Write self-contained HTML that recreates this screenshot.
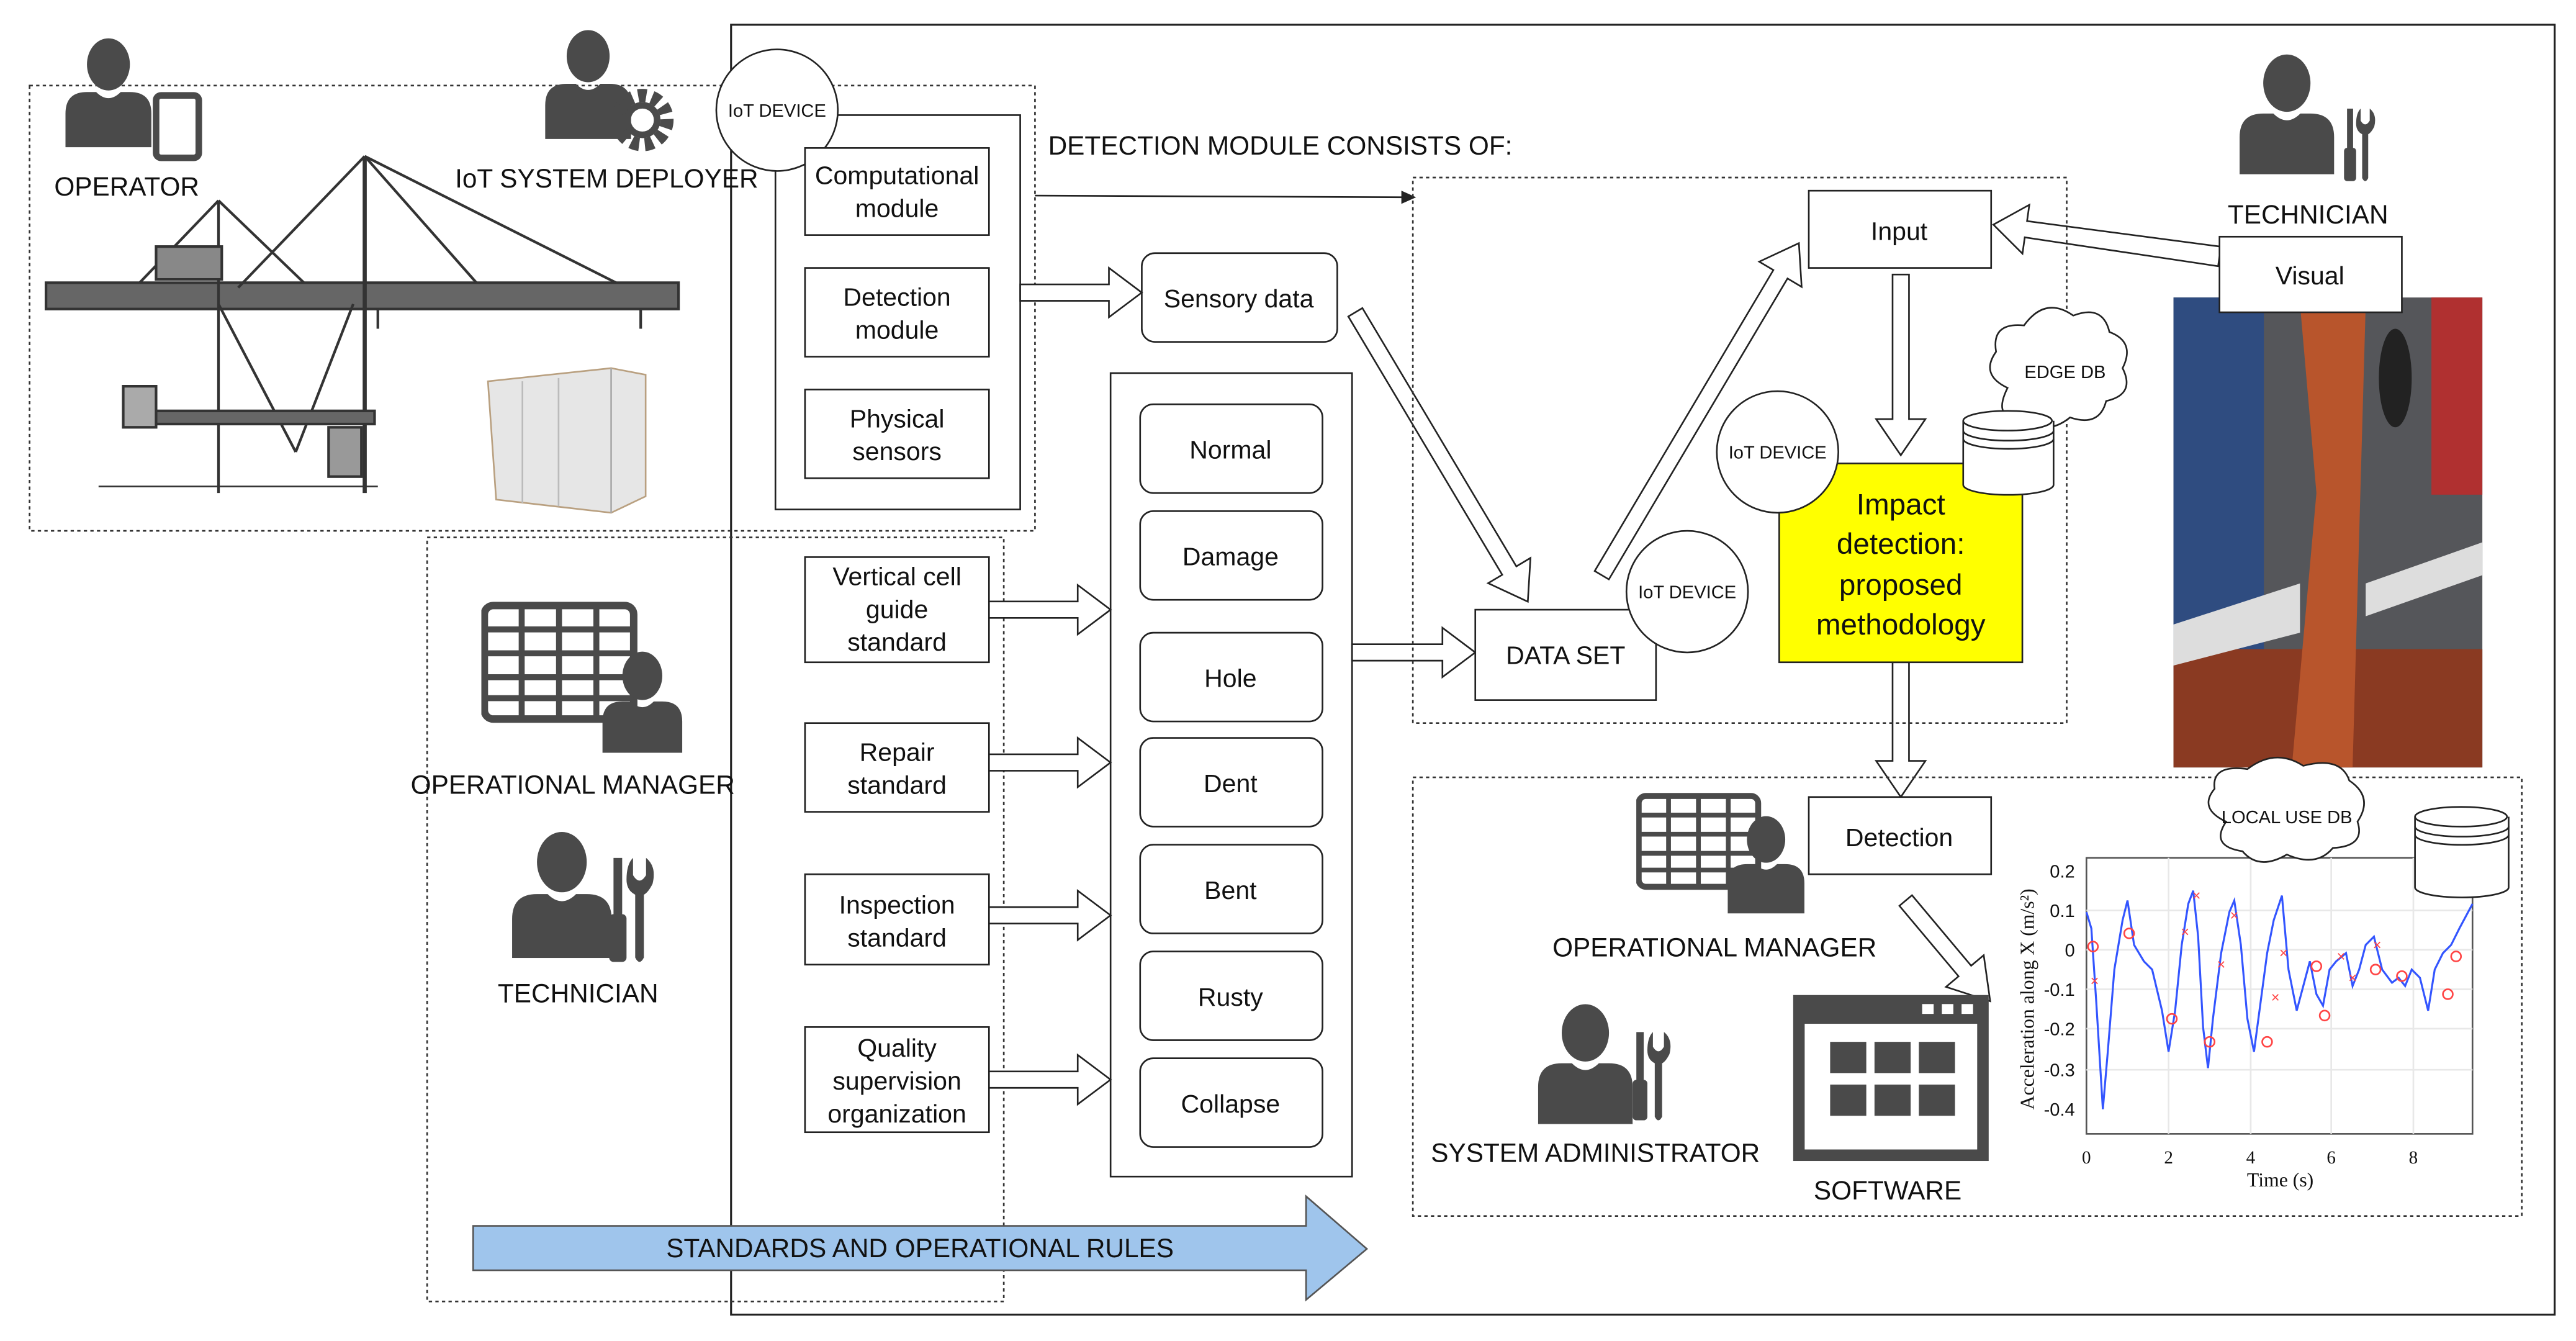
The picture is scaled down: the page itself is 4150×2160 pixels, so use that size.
<!DOCTYPE html>
<html><head><meta charset="utf-8"><style>
html,body{margin:0;padding:0;background:#fff;}
svg{display:block}
text{font-family:"Liberation Sans",sans-serif;fill:#111}
</style></head><body>
<svg width="4150" height="2160" viewBox="0 0 1568 816" xmlns="http://www.w3.org/2000/svg">
<defs>
<symbol id="person" viewBox="-30 -42 60 74">
<ellipse cx="0" cy="-22" rx="14" ry="17" fill="#4a4a4a"/>
<path d="M-28,32 L-28,10 Q-28,-4 -14,-4 L-8,-4 Q0,4 8,-4 L14,-4 Q28,-4 28,10 L28,32 Z" fill="#4a4a4a"/>
</symbol>
<symbol id="tools" viewBox="0 0 20 50">
<rect x="2" y="0" width="4" height="28" fill="#4a4a4a"/><rect x="0" y="26" width="8" height="22" rx="2" fill="#4a4a4a"/>
<path d="M11,0 L11,8 Q14,13 17,8 L17,0 Q22,4 20,12 Q18,16 16,17 L16,46 Q14,50 12,46 L12,17 Q8,15 8,10 Q8,3 11,0 Z" fill="#4a4a4a"/>
</symbol>
<symbol id="grid" viewBox="0 0 110 80">
<rect x="2" y="2" width="100" height="76" rx="6" fill="none" stroke="#4a4a4a" stroke-width="5"/>
<g stroke="#4a4a4a" stroke-width="4"><line x1="2" y1="18" x2="102" y2="18"/><line x1="2" y1="34" x2="102" y2="34"/><line x1="2" y1="50" x2="102" y2="50"/><line x1="2" y1="64" x2="102" y2="64"/><line x1="27" y1="2" x2="27" y2="78"/><line x1="52" y1="2" x2="52" y2="78"/><line x1="77" y1="2" x2="77" y2="78"/></g>
</symbol>
</defs>
<rect width="1568" height="816" fill="#fff"/>

<!-- main frame -->
<rect x="445" y="15" width="1110" height="785" fill="none" stroke="#222" stroke-width="1.2"/>
<!-- top dashed -->
<rect x="18" y="52" width="612" height="271" fill="none" stroke="#333" stroke-dasharray="2,2"/>
<!-- left lower dashed -->
<rect x="260" y="327" width="351" height="465" fill="none" stroke="#333" stroke-dasharray="2,2"/>

<!-- crane drawing -->
<g stroke="#333" fill="none" stroke-width="1.6">
<rect x="28" y="172" width="385" height="16" fill="#666" stroke="#333"/>
<line x1="85" y1="172" x2="133" y2="122"/><line x1="133" y1="122" x2="185" y2="172"/>
<line x1="133" y1="122" x2="133" y2="300"/><line x1="222" y1="95" x2="222" y2="300" stroke-width="2.5"/>
<line x1="222" y1="95" x2="375" y2="172"/><line x1="222" y1="95" x2="290" y2="172"/><line x1="222" y1="95" x2="145" y2="175"/>
<line x1="133" y1="185" x2="180" y2="275"/><line x1="215" y1="185" x2="180" y2="275"/>
<rect x="78" y="250" width="150" height="8" fill="#666"/>
<rect x="95" y="150" width="40" height="20" fill="#888"/>
<line x1="60" y1="296" x2="230" y2="296" stroke-width="1"/>
<rect x="75" y="235" width="20" height="25" fill="#aaa"/><rect x="200" y="260" width="20" height="30" fill="#999"/>
<line x1="390" y1="188" x2="390" y2="200"/><line x1="230" y1="188" x2="230" y2="200"/>
</g>
<!-- container -->
<polygon points="297,232 372,224 393,228 393,302 372,312 302,304" fill="#e6e6e6" stroke="#b9a080"/>
<line x1="318" y1="232" x2="318" y2="306" stroke="#bbb"/><line x1="340" y1="230" x2="340" y2="308" stroke="#bbb"/><line x1="372" y1="224" x2="372" y2="312" stroke="#aaa"/>

<!-- persons top -->
<use href="#person" x="38" y="20" width="56" height="70"/>
<rect x="95" y="58" width="26" height="38" rx="3" fill="#fff" stroke="#4a4a4a" stroke-width="4"/>
<text x="33" y="119" font-size="16">OPERATOR</text>
<use href="#person" x="330" y="15" width="56" height="70"/>
<circle cx="391" cy="73" r="15" fill="none" stroke="#4a4a4a" stroke-width="8" stroke-dasharray="5,3.5"/>
<circle cx="391" cy="73" r="9" fill="none" stroke="#4a4a4a" stroke-width="4"/>
<text x="277" y="114" font-size="16">IoT SYSTEM DEPLOYER</text>

<!-- device box -->
<rect x="472" y="70" width="149" height="240" fill="none" stroke="#222"/>
<circle cx="473" cy="67" r="37" fill="#fff" stroke="#222"/>
<text x="473" y="71" font-size="11" text-anchor="middle">IoT DEVICE</text>
<g fill="#fff" stroke="#222">
<rect x="490" y="90" width="112" height="53"/><rect x="490" y="163" width="112" height="54"/><rect x="490" y="237" width="112" height="54"/>
</g>
<g font-size="15.5" text-anchor="middle">
<text x="546" y="112">Computational</text><text x="546" y="132">module</text>
<text x="546" y="186">Detection</text><text x="546" y="206">module</text>
<text x="546" y="260">Physical</text><text x="546" y="280">sensors</text>
</g>
<text x="638" y="94" font-size="16">DETECTION MODULE CONSISTS OF:</text>
<line x1="630" y1="119" x2="855" y2="120" stroke="#222"/>
<polygon points="862,120 853,116 853,124" fill="#222"/>

<!-- sensory data -->
<rect x="695" y="154" width="119" height="54" rx="8" fill="#fff" stroke="#222"/>
<text x="754" y="187" font-size="15.5" text-anchor="middle">Sensory data</text>

<!-- categories -->
<rect x="676" y="227" width="147" height="489" fill="none" stroke="#222"/>
<g fill="#fff" stroke="#222">
<rect x="694" y="246" width="111" height="54" rx="8"/><rect x="694" y="311" width="111" height="54" rx="8"/>
<rect x="694" y="385" width="111" height="54" rx="8"/><rect x="694" y="449" width="111" height="54" rx="8"/>
<rect x="694" y="514" width="111" height="54" rx="8"/><rect x="694" y="579" width="111" height="54" rx="8"/>
<rect x="694" y="644" width="111" height="54" rx="8"/>
</g>
<g font-size="15.5" text-anchor="middle">
<text x="749" y="279">Normal</text><text x="749" y="344">Damage</text><text x="749" y="418">Hole</text>
<text x="749" y="482">Dent</text><text x="749" y="547">Bent</text><text x="749" y="612">Rusty</text><text x="749" y="677">Collapse</text>
</g>

<!-- standards -->
<g fill="#fff" stroke="#222">
<rect x="490" y="339" width="112" height="64"/><rect x="490" y="440" width="112" height="54"/>
<rect x="490" y="532" width="112" height="55"/><rect x="490" y="625" width="112" height="64"/>
</g>
<g font-size="15.5" text-anchor="middle">
<text x="546" y="356">Vertical cell</text><text x="546" y="376">guide</text><text x="546" y="396">standard</text>
<text x="546" y="463">Repair</text><text x="546" y="483">standard</text>
<text x="546" y="556">Inspection</text><text x="546" y="576">standard</text>
<text x="546" y="643">Quality</text><text x="546" y="663">supervision</text><text x="546" y="683">organization</text>
</g>

<!-- left icons -->
<use href="#grid" x="293" y="363" width="100" height="80"/>
<use href="#person" x="365" y="392" width="52" height="68"/>
<text x="250" y="483" font-size="16">OPERATIONAL MANAGER</text>
<use href="#person" x="306" y="503" width="72" height="80"/>
<use href="#tools" x="370" y="522" width="28" height="66"/>
<text x="303" y="610" font-size="16">TECHNICIAN</text>

<!-- hollow arrows -->
<g fill="#fff" stroke="#222" stroke-linejoin="miter">
<g transform="translate(621,178)"><polygon points="0,-5 54,-5 54,-15 74,0 54,15 54,5 0,5"/></g>
<g transform="translate(602,371)"><polygon points="0,-5 54,-5 54,-15 74,0 54,15 54,5 0,5"/></g>
<g transform="translate(602,464)"><polygon points="0,-5 54,-5 54,-15 74,0 54,15 54,5 0,5"/></g>
<g transform="translate(602,557)"><polygon points="0,-5 54,-5 54,-15 74,0 54,15 54,5 0,5"/></g>
<g transform="translate(602,657)"><polygon points="0,-5 54,-5 54,-15 74,0 54,15 54,5 0,5"/></g>
<g transform="translate(823,397)"><polygon points="0,-5 55,-5 55,-15 75,0 55,15 55,5 0,5"/></g>
<g transform="translate(1351,156) rotate(188)"><polygon points="0,-6 119,-5 119,-15 139,0 119,15 119,5 0,6"/></g>
<g transform="translate(1157,167) rotate(90)"><polygon points="0,-5 88,-5 88,-15 110,0 88,15 88,5 0,5"/></g>
<g transform="translate(1157,403) rotate(90)"><polygon points="0,-5 60,-5 60,-15 82,0 60,15 60,5 0,5"/></g>
<g transform="translate(825,190) rotate(59.2)"><polygon points="0,-5 183,-5 183,-15 205,0 183,15 183,5 0,5"/></g>
<g transform="translate(975,350) rotate(-59.3)"><polygon points="0,-5 213,-5 213,-15 235,0 213,15 213,5 0,5"/></g>
<g transform="translate(1160,548) rotate(50)"><polygon points="0,-5 56,-5 56,-15 80,0 56,15 56,5 0,5"/></g>
</g>

<!-- detection dashed -->
<rect x="860" y="108" width="398" height="332" fill="none" stroke="#333" stroke-dasharray="2,2"/>
<rect x="1101" y="116" width="111" height="47" fill="#fff" stroke="#222"/>
<text x="1156" y="146" font-size="15.5" text-anchor="middle">Input</text>
<rect x="898" y="371" width="110" height="55" fill="#fff" stroke="#222"/>
<text x="953" y="404" font-size="15.5" text-anchor="middle">DATA SET</text>
<circle cx="1027" cy="360" r="37" fill="#fff" stroke="#222"/>
<text x="1027" y="364" font-size="11" text-anchor="middle">IoT DEVICE</text>
<rect x="1083" y="282" width="148" height="121" fill="#ffff00" stroke="#222"/>
<circle cx="1082" cy="275" r="37" fill="#fff" stroke="#222"/>
<text x="1082" y="279" font-size="11" text-anchor="middle">IoT DEVICE</text>
<g font-size="18" text-anchor="middle"><text x="1157" y="313">Impact</text><text x="1157" y="337">detection:</text><text x="1157" y="362">proposed</text><text x="1157" y="386">methodology</text></g>
<!-- edge db -->
<path d="M1222,236 Q1205,228 1215,214 Q1212,196 1232,198 Q1245,180 1262,192 Q1280,185 1284,202 Q1300,208 1292,224 Q1300,240 1282,244 Q1278,260 1260,254 Q1245,266 1232,254 Q1212,256 1222,236 Z" fill="#fff" stroke="#222"/>
<text x="1257" y="230" font-size="11" text-anchor="middle">EDGE DB</text>
<path d="M1195,256 L1195,295 A27,6 0 0 0 1250,295 L1250,256" fill="#fff" stroke="#222"/>
<ellipse cx="1222" cy="256" rx="27" ry="6" fill="#fff" stroke="#222"/>
<path d="M1195,262 A27,6 0 0 0 1250,262 M1195,267 A27,6 0 0 0 1250,267" fill="none" stroke="#222"/>

<!-- technician right + photo -->
<use href="#person" x="1360" y="30" width="64" height="76"/>
<use href="#tools" x="1424" y="66" width="24" height="46"/>
<text x="1356" y="136" font-size="16">TECHNICIAN</text>
<rect x="1323" y="181" width="188" height="286" fill="#55565a"/>
<rect x="1323" y="181" width="55" height="230" fill="#2f4c80"/>
<rect x="1480" y="181" width="31" height="120" fill="#b03030"/>
<rect x="1323" y="395" width="188" height="72" fill="#8a3a22"/>
<polygon points="1323,380 1400,355 1400,385 1323,405" fill="#ddd"/>
<polygon points="1440,355 1511,330 1511,350 1440,375" fill="#ddd"/>
<polygon points="1400,185 1440,185 1432,467 1395,467 1410,300" fill="#b8552c"/>
<ellipse cx="1458" cy="230" rx="10" ry="30" fill="#222"/>
<rect x="1351" y="144" width="111" height="46" fill="#fff" stroke="#222"/>
<text x="1406" y="173" font-size="15.5" text-anchor="middle">Visual</text>

<!-- lower dashed -->
<rect x="860" y="473" width="675" height="267" fill="none" stroke="#333" stroke-dasharray="2,2"/>
<use href="#grid" x="996" y="478" width="80" height="68"/>
<use href="#person" x="1050" y="492" width="50" height="66"/>
<text x="945" y="582" font-size="16">OPERATIONAL MANAGER</text>
<rect x="1101" y="485" width="111" height="47" fill="#fff" stroke="#222"/>
<text x="1156" y="515" font-size="15.5" text-anchor="middle">Detection</text>
<use href="#person" x="933" y="608" width="64" height="76"/>
<use href="#tools" x="993" y="628" width="24" height="56"/>
<text x="871" y="707" font-size="16">SYSTEM ADMINISTRATOR</text>
<rect x="1095" y="609" width="112" height="94" fill="#fff" stroke="#4a4a4a" stroke-width="7"/>
<rect x="1095" y="609" width="112" height="14" fill="#4a4a4a"/>
<g fill="#fff"><rect x="1170" y="611" width="7" height="6"/><rect x="1182" y="611" width="7" height="6"/><rect x="1194" y="611" width="7" height="6"/></g>
<g fill="#4a4a4a"><rect x="1114" y="634" width="22" height="19"/><rect x="1141" y="634" width="22" height="19"/><rect x="1168" y="634" width="22" height="19"/>
<rect x="1114" y="660" width="22" height="19"/><rect x="1141" y="660" width="22" height="19"/><rect x="1168" y="660" width="22" height="19"/></g>
<text x="1104" y="730" font-size="16">SOFTWARE</text>

<!-- chart -->
<rect x="1270" y="522" width="235" height="168" fill="#fff" stroke="#555"/>
<g stroke="#e8e8e8"><line x1="1270" y1="554" x2="1505" y2="554"/><line x1="1270" y1="578" x2="1505" y2="578"/><line x1="1270" y1="602" x2="1505" y2="602"/><line x1="1270" y1="626" x2="1505" y2="626"/><line x1="1270" y1="651" x2="1505" y2="651"/><line x1="1320" y1="522" x2="1320" y2="690"/><line x1="1370" y1="522" x2="1370" y2="690"/><line x1="1419" y1="522" x2="1419" y2="690"/><line x1="1469" y1="522" x2="1469" y2="690"/></g>
<polyline fill="none" stroke="#3355ff" stroke-width="1.2" points="1270,555 1273,565 1276,610 1280,675 1283,640 1287,590 1292,560 1295,548 1299,575 1305,585 1310,590 1316,615 1320,640 1324,615 1328,575 1332,550 1335,542 1338,570 1341,625 1344,650 1347,620 1352,580 1357,555 1360,548 1364,575 1368,620 1372,640 1376,610 1380,580 1384,560 1389,545 1393,590 1398,615 1402,600 1406,585 1410,605 1414,612 1418,590 1422,585 1428,580 1432,600 1436,590 1440,575 1445,570 1450,590 1456,598 1460,595 1464,600 1468,590 1473,595 1478,615 1482,590 1487,580 1492,575 1497,565 1505,550"/>
<g fill="none" stroke="#ff4444" stroke-width="1"><circle cx="1274" cy="576" r="3"/><circle cx="1296" cy="568" r="3"/><circle cx="1322" cy="620" r="3"/><circle cx="1345" cy="634" r="3"/><circle cx="1380" cy="634" r="3"/><circle cx="1410" cy="588" r="3"/><circle cx="1415" cy="618" r="3"/><circle cx="1446" cy="590" r="3"/><circle cx="1462" cy="594" r="3"/><circle cx="1490" cy="605" r="3"/><circle cx="1495" cy="582" r="3"/></g>
<g fill="#ff4444" font-size="9" text-anchor="middle"><text x="1275" y="600" style="fill:#f44">×</text><text x="1330" y="570" style="fill:#f44">×</text><text x="1337" y="548" style="fill:#f44">×</text><text x="1352" y="590" style="fill:#f44">×</text><text x="1360" y="560" style="fill:#f44">×</text><text x="1385" y="610" style="fill:#f44">×</text><text x="1390" y="583" style="fill:#f44">×</text><text x="1425" y="585" style="fill:#f44">×</text><text x="1432" y="598" style="fill:#f44">×</text><text x="1447" y="578" style="fill:#f44">×</text></g>
<g font-family="Liberation Serif" font-size="11" text-anchor="end"><text x="1263" y="534" font-family="Liberation Serif">0.2</text><text x="1263" y="558" font-family="Liberation Serif">0.1</text><text x="1263" y="582" font-family="Liberation Serif">0</text><text x="1263" y="606" font-family="Liberation Serif">-0.1</text><text x="1263" y="630" font-family="Liberation Serif">-0.2</text><text x="1263" y="655" font-family="Liberation Serif">-0.3</text><text x="1263" y="679" font-family="Liberation Serif">-0.4</text></g>
<g font-size="11" text-anchor="middle" style="font-family:'Liberation Serif',serif"><text x="1270" y="708" style="font-family:'Liberation Serif',serif">0</text><text x="1320" y="708" style="font-family:'Liberation Serif',serif">2</text><text x="1370" y="708" style="font-family:'Liberation Serif',serif">4</text><text x="1419" y="708" style="font-family:'Liberation Serif',serif">6</text><text x="1469" y="708" style="font-family:'Liberation Serif',serif">8</text><text x="1388" y="722" font-size="12" style="font-family:'Liberation Serif',serif">Time (s)</text></g>
<text transform="translate(1238,608) rotate(-90)" font-size="12" text-anchor="middle" style="font-family:'Liberation Serif',serif">Acceleration along X (m/s²)</text>
<!-- local db -->
<path d="M1355,500 Q1338,492 1348,480 Q1346,465 1368,468 Q1385,455 1402,466 Q1425,460 1430,475 Q1445,485 1435,500 Q1440,515 1420,516 Q1410,528 1392,520 Q1375,530 1365,518 Q1345,515 1355,500 Z" fill="#fff" stroke="#222"/>
<text x="1392" y="501" font-size="11" text-anchor="middle">LOCAL USE DB</text>
<path d="M1470,497 L1470,540 A28,6 0 0 0 1527,540 L1527,497" fill="#fff" stroke="#222"/>
<ellipse cx="1498" cy="497" rx="28" ry="6" fill="#fff" stroke="#222"/>
<path d="M1470,503 A28,6 0 0 0 1527,503 M1470,508 A28,6 0 0 0 1527,508" fill="none" stroke="#222"/>

<!-- standards blue arrow -->
<polygon points="288,746 795,746 795,728 832,760 795,791 795,773 288,773" fill="#9fc5ec" stroke="#555"/>
<text x="560" y="765" font-size="16" text-anchor="middle">STANDARDS AND OPERATIONAL RULES</text>
</svg>
</body></html>
